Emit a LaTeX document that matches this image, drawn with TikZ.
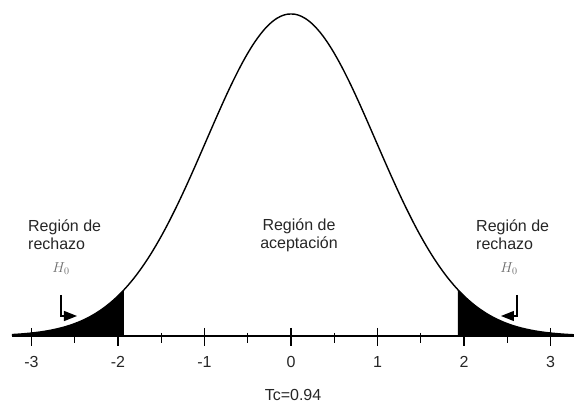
\documentclass[tikz,border=0pt]{standalone}
\usepackage{fontspec}
\setmainfont{Liberation Sans}
\usetikzlibrary{arrows.meta}
\tikzset{lbl/.style={font=\fontsize{16}{18}\selectfont, text=black!85, inner sep=0pt},
  hyp/.style={font=\fontsize{14}{16}\selectfont, text=gray!85!black, inner sep=0pt},
  elbow/.style={line width=1.3pt, -{Triangle[length=13pt,width=10pt]}}}

\begin{document}
\begin{tikzpicture}[x=1pt,y=1pt]
    \def\unit{86.5}
    \def\peak{322}
    \def\crit{167}
    \useasboundingbox (-291,-67) rectangle (283,336);
    % tails
    \fill[domain=-279:-\crit, samples=40] plot (\x,{\peak*exp(-(\x/\unit)^2/1.92)}) -- (-\crit,0) -- (-279,0) -- cycle;
    \fill[domain=\crit:283, samples=40] plot (\x,{\peak*exp(-(\x/\unit)^2/1.92)}) -- (283,0) -- (\crit,0) -- cycle;
    \draw[line width=1.4pt, domain=-279:283, samples=160, smooth] plot (\x,{\peak*exp(-(\x/\unit)^2/1.92)});
    % axis and ticks
    \draw[line width=1.5pt] (-279,0) -- (283,0);
    \foreach \t in {-3,...,3} {
      \draw[line width=1.2pt] (\t*\unit,8) -- (\t*\unit,-10);
      \node[lbl] (t\t) at (\t*\unit,-26) {\t};
    }
    \foreach \t in {-2.5,-1.5,...,2.5}
      \draw[line width=1.2pt] (\t*\unit,3) -- (\t*\unit,-7);
    \node[lbl] (tc) at (2,-59) {Tc=0.94};
    % regions
    \node[lbl, align=left, anchor=west] (left) at (-263,101) {Región de\\rechazo};
    \node[lbl, align=center] (mid) at (8,101) {Región de\\aceptación};
    \node[lbl, align=left, anchor=west] (right) at (185,101) {Región de\\rechazo};
    \node[hyp] (h0l) at (-230,67) {$H_0$};
    \node[hyp] (h0r) at (218,67) {$H_0$};
    \coordinate (al) at (-230,41);
    \coordinate (bl) at (-214,20);
    \coordinate (ar) at (226,41);
    \coordinate (br) at (210,20);
    \draw[elbow] (al) |- (bl);
    \draw[elbow] (ar) |- (br);
\end{tikzpicture}
\end{document}
